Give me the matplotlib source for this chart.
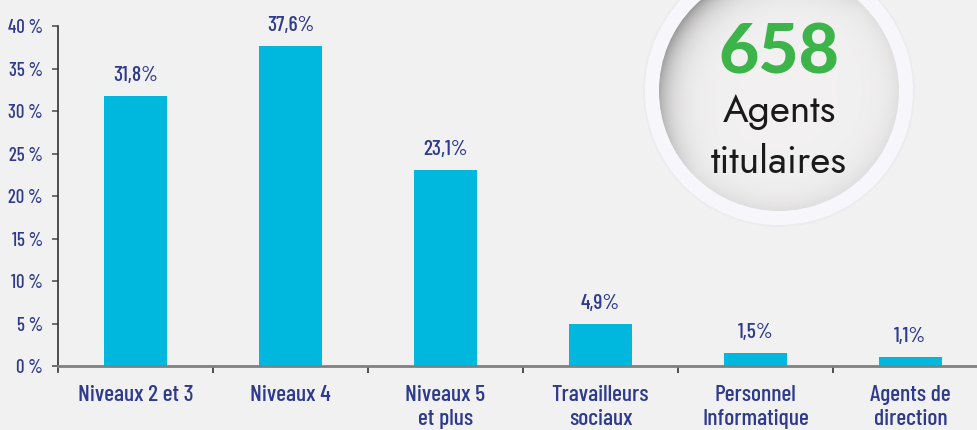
import numpy as np
import matplotlib.pyplot as plt
from matplotlib.patches import Circle

# -----------------------------
# Data
# -----------------------------
categories = ["Niveaux 2 et 3", "Niveaux 4", "Niveaux 5\net plus",
              "Travailleurs\nsociaux", "Personnel\nInformatique", "Agents de\ndirection"]
shares = [31.8, 37.6, 23.1, 4.9, 1.5, 1.1]
value_labels = ["31,8%", "37,6%", "23,1%", "4,9%", "1,5%", "1,1%"]
yticks = [0, 5, 10, 15, 20, 25, 30, 35, 40]
ytick_labels = [f"{t} %" for t in yticks]
total_agents = "658"
total_caption = ["Agents", "titulaires"]

# -----------------------------
# Styles
# -----------------------------
bg = "#f1f1f1"
bar_color = "#00b7dd"
navy = "#2e3a8e"
green = "#3cb44a"
narrow = "Barlow Condensed"
round_font = "Jost"

fig = plt.figure(figsize=(9.77, 4.30), dpi=100, facecolor=bg)
ax = fig.add_axes([58 / 977, 58 / 430, 919 / 977, (372 - 26) / 430])
ax.set_facecolor(bg)

x = np.arange(len(categories))
ax.bar(x, shares, width=0.41, color=bar_color, zorder=2)

for xi, v, lab in zip(x, shares, value_labels):
    ax.annotate(lab, (xi, v), xytext=(0, 8), textcoords="offset points",
                ha="center", va="bottom", color=navy, fontsize=15.5,
                family=narrow, fontweight="medium")

ax.set_xlim(-0.5, 5.43)
ax.set_ylim(-0.7, 40)

ax.spines["top"].set_visible(False)
ax.spines["right"].set_visible(False)
ax.spines["bottom"].set_position(("data", 0))
ax.spines["bottom"].set_color("#808080")
ax.spines["bottom"].set_linewidth(2)
ax.spines["bottom"].set_zorder(3)
ax.spines["left"].set_color("#333333")
ax.spines["left"].set_linewidth(1.2)
ax.spines["left"].set_bounds(-0.7, 40)

ax.set_yticks(yticks)
ax.set_yticklabels(ytick_labels, family=narrow, fontsize=13.5, color=navy,
                   fontweight="medium")
ax.tick_params(axis="y", length=4, width=1.2, color="#555555", pad=7)

ax.set_xticks(x)
ax.set_xticklabels(categories, family=narrow, fontsize=17, color=navy,
                   fontweight="medium", linespacing=1.2)
ax.set_xticks(x[:-1] + 0.5, minor=True)
ax.tick_params(axis="x", which="major", length=0, pad=14)
ax.tick_params(axis="x", which="minor", length=5, width=1.2, color="#333333")

# -----------------------------
# Highlight circle (pixel coordinates)
# -----------------------------
ov = fig.add_axes([0, 0, 1, 1], zorder=5)
ov.set_xlim(0, 977)
ov.set_ylim(430, 0)
ov.axis("off")
ov.patch.set_alpha(0)

cx, cy = 779, 91
ov.add_patch(Circle((cx, cy), 136, facecolor="#ececee", edgecolor="none", zorder=1))
ov.add_patch(Circle((cx, cy), 134, facecolor="#f7f6fa", edgecolor="none", zorder=1))
inner = Circle((cx, cy), 120, facecolor="none", edgecolor="none", zorder=1)
ov.add_patch(inner)

gx, gy = np.meshgrid(np.arange(cx - 121, cx + 122), np.arange(cy - 121, cy + 122))
dx, dy = gx - cx, gy - cy
r = np.hypot(dx, dy)
depth = np.clip(120 - r, 0, None)
direction = np.clip((-dx - dy) / (r * np.sqrt(2) + 1e-9), 0, 1)
shade = np.exp(-depth / 14) * (0.2 + 0.8 * direction)
base = np.array([0.95, 0.945, 0.945])
img = np.clip(base[None, None, :] - shade[..., None] * 0.36, 0, 1)
im = ov.imshow(img, extent=(cx - 121.5, cx + 121.5, cy + 121.5, cy - 121.5),
               interpolation="bilinear", zorder=2)
im.set_clip_path(inner)
ov.set_xlim(0, 977)
ov.set_ylim(430, 0)

ov.text(cx, 73, total_agents, ha="center", va="baseline", color=green,
        fontsize=50, fontweight="black", family="Lato", zorder=3)
ov.text(cx, 122, total_caption[0], ha="center", va="baseline", color="#1a1a1a",
        fontsize=28, family=round_font, zorder=3)
ov.text(cx, 173, total_caption[1], ha="center", va="baseline", color="#1a1a1a",
        fontsize=28, family=round_font, zorder=3)

fig.savefig("out.png", dpi=100, facecolor=bg)
